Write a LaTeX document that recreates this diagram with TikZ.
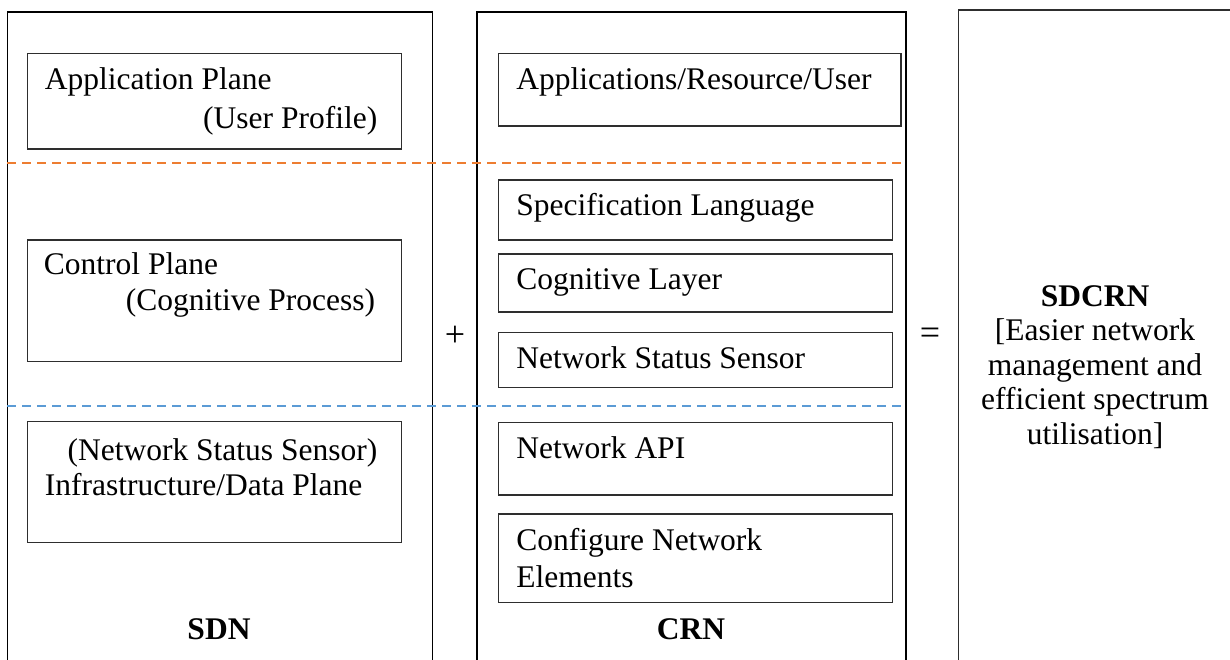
\documentclass[tikz,border=0pt]{standalone}
\usepackage{fontspec}
\setmainfont{Liberation Serif}
\definecolor{lineorange}{HTML}{ED7D31}
\definecolor{lineblue}{HTML}{5B9BD5}
\definecolor{boxgray}{HTML}{2E2E2E}
\tikzset{
  frame/.style={draw=black, line width=0.6pt},
  box/.style={draw=boxgray, line width=0.75pt, inner sep=0pt, anchor=north west},
  txt/.style={inner sep=0pt, font=\fontsize{15.75pt}{18pt}\selectfont},
  ttl/.style={txt, font=\fontsize{15.75pt}{18pt}\selectfont\bfseries, anchor=base},
  oper/.style={inner sep=0pt, font=\fontsize{18pt}{20pt}\selectfont},
  sep/.style={line width=1pt, dash pattern=on 4.5pt off 3pt},
}
\begin{document}
\begin{tikzpicture}[x=0.5pt,y=-0.5pt]
\useasboundingbox (0,0) rectangle (1230,659);
\clip (0,0) rectangle (1230,659);

% outer columns, open at the bottom
\coordinate (sdnbl) at (7.3,700);
\coordinate (sdntl) at (7.3,12);
\coordinate (sdntr) at (432.7,12);
\coordinate (sdnbr) at (432.7,700);
\draw[frame] (sdnbl) -- (sdntl) -- (sdntr) -- (sdnbr);
\coordinate (crnbl) at (477,700);
\coordinate (crntl) at (477,12);
\coordinate (crntr) at (906,12);
\coordinate (crnbr) at (906,700);
\draw[frame] (crnbl) -- (crntl) -- (crntr) -- (crnbr);
\coordinate (sdcrntl) at (958.7,10);
\coordinate (sdcrnbr) at (1300,720);
\draw[draw=boxgray, line width=0.75pt] (sdcrntl) rectangle (sdcrnbr);

% SDN planes
\node[box, minimum width=187pt, minimum height=47.8pt] (sdnapp) at (26.7,52.7) {};
\node[box, minimum width=187pt, minimum height=60.7pt] (sdnctl) at (26.7,239.3) {};
\node[box, minimum width=187pt, minimum height=60.5pt] (sdninf) at (26.7,420.7) {};

\node[txt, anchor=base west] (t1a) at (44.5,89.3) {Application Plane};
\node[txt, anchor=base east] (t1b) at (377.7,128) {(User Profile)};
\node[txt, anchor=base west] (t2a) at (43.5,274.3) {Control Plane};
\node[txt, anchor=base east] (t2b) at (375.5,310.5) {(Cognitive Process)};
\node[txt, anchor=base east] (t3a) at (377.7,460) {(Network Status Sensor)};
\node[txt, anchor=base west] (t3b) at (44.5,495.5) {Infrastructure/Data Plane};
\node[ttl] (sdnlbl) at (219,639) {SDN};

% CRN layers
\node[box, minimum width=201.15pt, minimum height=36.3pt] (crnapp) at (497.7,52.7) {};
\node[box, minimum width=197pt, minimum height=30pt] (crnspec) at (497.7,179) {};
\node[box, minimum width=197pt, minimum height=29pt] (crncog) at (497.7,253) {};
\node[box, minimum width=197pt, minimum height=27.5pt] (crnsens) at (497.7,331.7) {};
\node[box, minimum width=197pt, minimum height=36.3pt] (crnapi) at (497.7,421.7) {};
\node[box, minimum width=197pt, minimum height=44.2pt] (crncfg) at (497.7,513.3) {};

\node[txt, anchor=base west] (c1) at (516,89.5) {Applications/Resource/User};
\node[txt, anchor=base west] (c2) at (516,215) {Specification Language};
\node[txt, anchor=base west] (c3) at (516,289.3) {Cognitive Layer};
\node[txt, anchor=base west] (c4) at (516,368) {Network Status Sensor};
\node[txt, anchor=base west] (c5) at (516,458.3) {Network API};
\node[txt, anchor=base west] (c6a) at (516,550.5) {Configure Network};
\node[txt, anchor=base west] (c6b) at (516,587) {Elements};
\node[ttl] (crnlbl) at (691,639) {CRN};

% operators
\node[oper] (plus) at (455,336) {+};
\node[oper] (equals) at (930,336) {=};

% result
\node[txt, align=center, font=\fontsize{15.75pt}{17.25pt}\selectfont] (sdcrn) at (1095,367)
  {\textbf{SDCRN}\\{[}Easier network\\management and\\efficient spectrum\\utilisation{]}};

% plane boundaries
\coordinate (o1) at (7.3,163);
\coordinate (o2) at (906,163);
\coordinate (b1) at (7.3,405.5);
\coordinate (b2) at (906,405.5);
\draw[sep, lineorange] (o1) -- (o2);
\draw[sep, lineblue] (b1) -- (b2);
\end{tikzpicture}
\end{document}
